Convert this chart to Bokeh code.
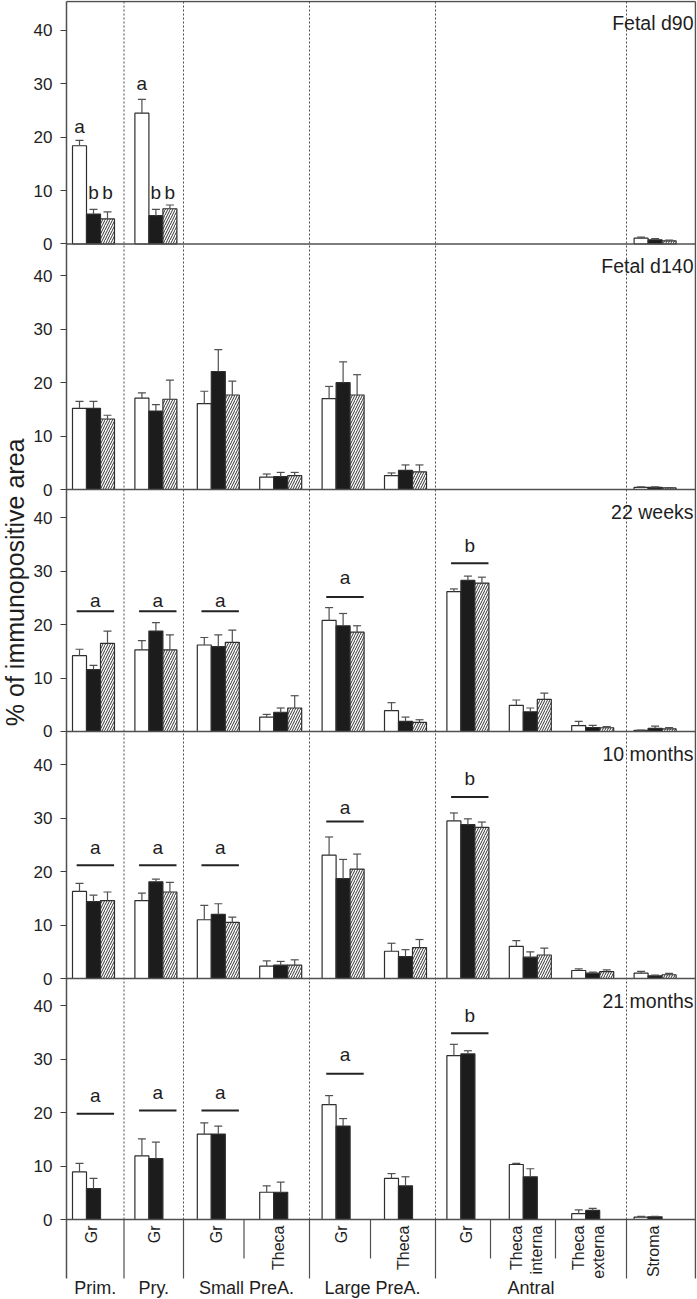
from math import pi
from bokeh.plotting import figure
from bokeh.models import Range1d, FixedTicker, ColumnDataSource, Title
from bokeh.core.properties import value
from bokeh.embed import file_html
from bokeh.resources import INLINE

# ---------------- data ----------------
categories = ["Gr", "Gr", "Gr", "Theca", "Gr", "Theca", "Gr", "Theca\ninterna", "Theca\nexterna", "Stroma"]
groups = ["Prim.", "Pry.", "Small PreA.", "Large PreA.", "Antral"]
panel_titles = ["Fetal d90", "Fetal d140", "22 weeks", "10 months", "21 months"]
y_tick_values = [0, 10, 20, 30, 40]
y_label = "% of immunopositive area"
N = None

d90_white = [18.4, 24.5, N, N, N, N, N, N, N, 1.1]
d90_white_err = [1.0, 2.6, N, N, N, N, N, N, N, 0.2]
d90_black = [5.6, 5.3, N, N, N, N, N, N, N, 0.8]
d90_black_err = [0.9, 1.2, N, N, N, N, N, N, N, 0.2]
d90_hatch = [4.7, 6.6, N, N, N, N, N, N, N, 0.6]
d90_hatch_err = [1.3, 0.7, N, N, N, N, N, N, N, 0.15]

d140_white = [15.2, 17.1, 16.1, 2.3, 17.0, 2.6, N, N, N, 0.4]
d140_white_err = [1.3, 1.0, 2.3, 0.6, 2.3, 0.5, N, N, N, 0.1]
d140_black = [15.2, 14.7, 22.1, 2.4, 20.0, 3.6, N, N, N, 0.4]
d140_black_err = [1.3, 1.2, 4.1, 0.8, 3.9, 1.0, N, N, N, 0.1]
d140_hatch = [13.2, 16.9, 17.7, 2.6, 17.7, 3.3, N, N, N, 0.3]
d140_hatch_err = [0.7, 3.6, 2.6, 0.6, 3.8, 1.3, N, N, N, 0.05]

w22_white = [14.2, 15.3, 16.2, 2.7, 20.8, 3.9, 26.2, 4.9, 1.1, 0.2]
w22_white_err = [1.2, 1.7, 1.4, 0.5, 2.4, 1.5, 0.5, 1.0, 0.8, 0.05]
w22_black = [11.6, 18.8, 15.9, 3.6, 19.8, 1.9, 28.3, 3.7, 0.75, 0.6]
w22_black_err = [0.8, 1.6, 2.2, 0.8, 2.3, 0.8, 0.8, 0.7, 0.4, 0.4]
w22_hatch = [16.5, 15.3, 16.7, 4.4, 18.6, 1.7, 27.8, 6.0, 0.7, 0.5]
w22_hatch_err = [2.3, 2.8, 2.3, 2.3, 1.2, 0.5, 1.1, 1.2, 0.2, 0.25]

m10_white = [16.3, 14.6, 11.0, 2.3, 23.1, 5.1, 29.5, 6.0, 1.5, 1.0]
m10_white_err = [1.5, 1.4, 2.7, 1.0, 3.4, 1.5, 1.5, 1.1, 0.3, 0.35]
m10_black = [14.4, 18.1, 12.0, 2.5, 18.7, 4.1, 28.8, 4.0, 1.0, 0.5]
m10_black_err = [1.2, 0.5, 2.0, 0.7, 3.6, 1.3, 1.1, 1.0, 0.2, 0.15]
m10_hatch = [14.6, 16.2, 10.5, 2.5, 20.5, 5.8, 28.3, 4.4, 1.3, 0.7]
m10_hatch_err = [1.6, 1.8, 1.0, 1.0, 2.8, 1.5, 1.0, 1.3, 0.3, 0.25]

m21_white = [8.9, 11.9, 16.0, 5.1, 21.5, 7.7, 30.7, 10.3, 1.1, 0.45]
m21_white_err = [1.6, 3.2, 2.1, 1.2, 1.7, 0.9, 2.1, 0.2, 0.7, 0.15]
m21_black = [5.8, 11.4, 16.0, 5.1, 17.5, 6.3, 31.0, 8.0, 1.7, 0.5]
m21_black_err = [1.9, 3.1, 1.5, 1.9, 1.4, 1.7, 0.6, 1.5, 0.4, 0.1]

# letters over single bars (Fetal d90): category, bar index (0 white,1 black,2 hatched), y, letter
d90_sig_cat = [0, 0, 0, 1, 1, 1]
d90_sig_bar = [0, 1, 2, 0, 1, 2]
d90_sig_y = [22.0, 9.7, 9.7, 30.0, 9.7, 9.7]
d90_sig_text = ["a", "b", "b", "a", "b", "b"]

# bracket lines over groups: category, line y, letter y, letter
sig_cat = [0, 1, 2, 4, 6]
w22_sig_line = [22.5, 22.5, 22.5, 25.2, 31.5]
w22_sig_ltr = [24.5, 24.5, 24.5, 28.8, 34.8]
m10_sig_line = [21.2, 21.2, 21.2, 29.4, 34.0]
m10_sig_ltr = [24.6, 24.6, 24.6, 32.1, 37.4]
m21_sig_line = [19.8, 20.4, 20.4, 27.3, 34.9]
m21_sig_ltr = [23.2, 23.8, 23.8, 30.9, 38.2]
sig_text = ["a", "a", "a", "a", "b"]

panels = [
    dict(series=[(d90_white, d90_white_err), (d90_black, d90_black_err), (d90_hatch, d90_hatch_err)], sig=None),
    dict(series=[(d140_white, d140_white_err), (d140_black, d140_black_err), (d140_hatch, d140_hatch_err)], sig=None),
    dict(series=[(w22_white, w22_white_err), (w22_black, w22_black_err), (w22_hatch, w22_hatch_err)],
         sig=(w22_sig_line, w22_sig_ltr)),
    dict(series=[(m10_white, m10_white_err), (m10_black, m10_black_err), (m10_hatch, m10_hatch_err)],
         sig=(m10_sig_line, m10_sig_ltr)),
    dict(series=[(m21_white, m21_white_err), (m21_black, m21_black_err)], sig=(m21_sig_line, m21_sig_ltr)),
]

# ---------------- layout ----------------
R = 5.34       # px per y unit
PX = 62.4      # px per category
X0 = 93.0      # page x of first category
Z5 = 1219.0    # page y of bottom panel zero


def xd(px):
    return (px - X0) / PX


def yd(py):
    return (Z5 - py) / R


zero_pages = [243.5, 489.0, 731.0, 978.0, 1219.0]
top_pages = [0.0, 243.5, 489.0, 731.0, 978.0]
bases = [round(yd(z), 3) for z in zero_pages]

FONT = "Liberation Sans"
TXT = "#1e1e1e"
LINE = "#3c3c3c"

p = figure(width=697, height=1299, x_range=Range1d(xd(64), xd(696)), y_range=Range1d(yd(1299), yd(0)),
           output_backend="svg", toolbar_location=None, x_axis_location=None, title=None,
           min_border_left=64, min_border_right=1, min_border_top=0, min_border_bottom=0)
p.outline_line_color = None
p.grid.grid_line_color = None
p.background_fill_color = "white"

# y axis ticks per panel
ticks, overrides = [], {}
for b in bases:
    for v in y_tick_values:
        t = round(b + v, 3)
        ticks.append(t)
        overrides[t] = str(v)
ax = p.yaxis[0]
ax.ticker = FixedTicker(ticks=ticks, minor_ticks=[])
ax.major_label_overrides = overrides
ax.axis_line_color = None
ax.major_tick_in = 2
ax.major_tick_out = 4
ax.major_tick_line_color = LINE
ax.major_tick_line_width = 1.2
ax.minor_tick_line_color = None
ax.major_label_standoff = 8
ax.major_label_text_font = FONT
ax.major_label_text_font_size = "17px"
ax.major_label_text_color = TXT

# y axis title on the left side
YL_FS = 25
yl_len = 11.56 * YL_FS
p.add_layout(Title(text=y_label, align="right", offset=582.5 - yl_len / 2, standoff=0,
                   text_font=FONT, text_font_size=f"{YL_FS}px", text_font_style="normal",
                   text_color=TXT, vertical_align="top"), "left")

x_left, x_right = xd(66), xd(695)
y_top = yd(1)
long_seps = [xd(v) for v in (123.5, 183, 309, 435, 626)]
short_seps = [xd(v) for v in (243.5, 370, 490, 555)]
y_long, y_short = yd(1278), yd(1258)

# dashed separators inside the panels
p.segment(x0=long_seps, y0=[0] * 5, x1=long_seps, y1=[y_top] * 5,
          line_color="#4a4a4a", line_width=1, line_dash="2 2")

W = 14 / PX
offs = [-W, 0.0, W]
styles = [dict(fill_color="white"), dict(fill_color="#1c1c1c"),
          dict(fill_color="white", hatch_pattern="/", hatch_scale=5, hatch_weight=1, hatch_color="#333333")]
cap = 4 / PX

for k, pan in enumerate(panels):
    b = bases[k]
    for s, (vals, errs) in enumerate(pan["series"]):
        xs, tops, ehi = [], [], []
        for i, (v, e) in enumerate(zip(vals, errs)):
            if v is None:
                continue
            xs.append(i + offs[s])
            tops.append(b + v)
            ehi.append(b + v + e)
        src = ColumnDataSource(dict(x=xs, top=tops, bottom=[b] * len(xs), ehi=ehi,
                                    cl=[x - cap for x in xs], cr=[x + cap for x in xs]))
        p.vbar(x="x", top="top", bottom="bottom", width=W, source=src,
               line_color="#2e2e2e", line_width=1.2, **styles[s])
        p.segment(x0="x", y0="top", x1="x", y1="ehi", source=src, line_color="#505050", line_width=1.2)
        p.segment(x0="cl", y0="ehi", x1="cr", y1="ehi", source=src, line_color="#505050", line_width=1.2)
    if pan["sig"] is not None:
        lines, ltrs = pan["sig"]
        cx = [c + 0.03 for c in sig_cat]
        p.segment(x0=[c - 0.3 for c in cx], x1=[c + 0.3 for c in cx], y0=[b + v for v in lines],
                  y1=[b + v for v in lines], line_color="#222222", line_width=2)
        p.text(x=cx, y=[b + v for v in ltrs], text=sig_text, text_align="center", text_baseline="middle",
               text_font=value(FONT), text_font_size="19px", text_color=TXT)

# Fetal d90 letters
p.text(x=[c + offs[bi] for c, bi in zip(d90_sig_cat, d90_sig_bar)], y=[bases[0] + v for v in d90_sig_y],
       text=d90_sig_text, text_align="center", text_baseline="middle",
       text_font=value(FONT), text_font_size="19px", text_color=TXT)

# frame lines
hy = bases + [y_top]
p.segment(x0=[x_left] * len(hy), x1=[x_right] * len(hy), y0=hy, y1=hy, line_color="#505050", line_width=1.5)
p.segment(x0=[x_left, x_right], x1=[x_left, x_right], y0=[y_long] * 2, y1=[y_top] * 2,
          line_color="#505050", line_width=1.5)
p.segment(x0=long_seps, x1=long_seps, y0=[y_long] * 5, y1=[0] * 5, line_color="#505050", line_width=1.2)
p.segment(x0=short_seps, x1=short_seps, y0=[y_short] * 4, y1=[0] * 4, line_color="#505050", line_width=1.2)

# panel titles
p.text(x=[xd(693)] * 5, y=[yd(t + 22) for t in top_pages], text=panel_titles, text_align="right",
       text_baseline="alphabetic", text_font=value(FONT), text_font_size="19.5px", text_color=TXT)

# category labels (rotated)
lx, ly, lt = [], [], []
for i, c in enumerate(categories):
    parts = c.split("\n")
    if len(parts) == 1:
        lx.append(i - 0.03)
        lt.append(c)
        ly.append(yd(1225))
    else:
        for j, part in enumerate(parts):
            lx.append(i - 0.22 + 0.32 * j)
            lt.append(part)
            ly.append(yd(1225))
p.text(x=lx, y=ly, text=lt, angle=pi / 2, text_align="right", text_baseline="middle",
       text_font=value(FONT), text_font_size="16px", text_color=TXT)

# group labels
edges = [x_left] + long_seps
gx = [(edges[i] + edges[i + 1]) / 2 for i in range(len(groups))]
p.text(x=gx, y=[yd(1287)] * len(groups), text=groups, text_align="center", text_baseline="middle",
       text_font=value(FONT), text_font_size="18px", text_color=TXT)

open("out.html", "w").write(file_html(p, INLINE))
